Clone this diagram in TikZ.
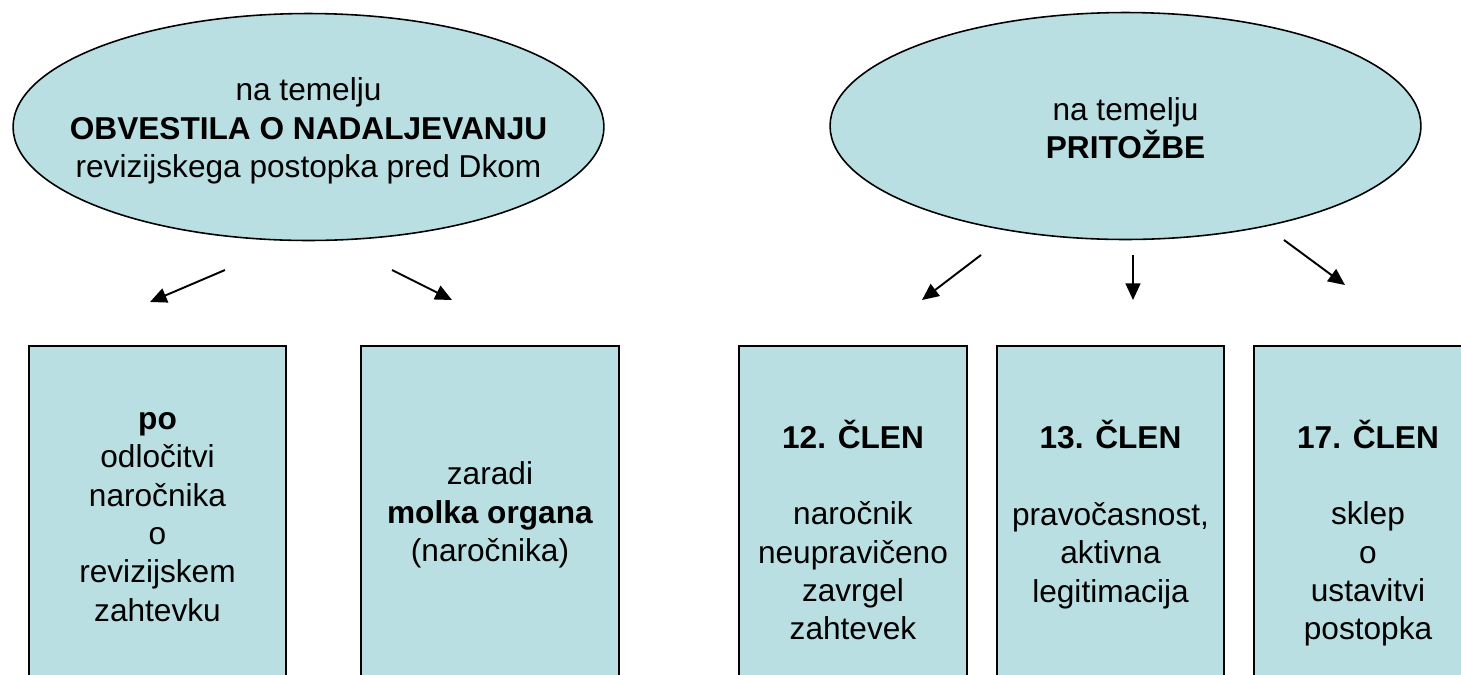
\documentclass[tikz,border=0pt]{standalone}
\usepackage{fontspec}
\setmainfont{Liberation Sans}
\usepackage{tikz}
\usetikzlibrary{arrows.meta,shapes.geometric}
\definecolor{paleteal}{RGB}{185,223,226}
\tikzset{
  bubble/.style={ellipse, draw, line width=0.9pt, fill=paleteal, inner sep=0pt, outer sep=0pt, minimum width=11.82cm, minimum height=4.54cm},
  card/.style={rectangle, draw, line width=1.1pt, fill=paleteal, anchor=north, inner sep=0pt, outer sep=0pt, minimum height=7.1cm},
  cardtext/.style={align=center, inner sep=0pt},
  line/.style={-{Triangle[length=9.5pt,width=8.5pt]}, line width=1.1pt}
}
\begin{document}
\begin{tikzpicture}[x=0.02cm, y=-0.02cm, font=\fontsize{18}{21.8}\selectfont]
  \useasboundingbox (0,0) rectangle (1461,674);
  \clip (0,0) rectangle (1461,674);

  % the two sources
  \node[bubble] (obv) at (308.5,127) {};
  \node[bubble] (prit) at (1125.5,126) {};
  \node[cardtext] (obv-t) at (308.5,131) {na temelju\\\textbf{OBVESTILA O NADALJEVANJU}\\revizijskega postopka pred Dkom};
  \node[cardtext] (prit-t) at (1125.5,128) {na temelju\\\textbf{PRITOŽBE}};

  % boxes, cut off by the lower edge
  \node[card, minimum width=5.14cm] (odl) at (157.5,346) {};
  \node[card, minimum width=5.16cm] (molk) at (490,346) {};
  \node[card, minimum width=4.56cm] (c12) at (853,346) {};
  \node[card, minimum width=4.54cm] (c13) at (1110.5,346) {};
  \node[card, minimum width=4.56cm] (c17) at (1368,346) {};

  \node[cardtext] (odl-t) at (157.5,517) {\textbf{po}\\odločitvi\\naročnika\\o\\revizijskem\\zahtevku};
  \node[cardtext] (molk-t) at (490,515) {zaradi\\\textbf{molka organa}\\(naročnika)};
  \node[cardtext] (c12-t) at (853,530) {\textbf{12. ČLEN}\\[21.8pt]naročnik\\neupravičeno\\zavrgel\\zahtevek};
  \node[cardtext] (c13-t) at (1110.5,514.5) {\textbf{13. ČLEN}\\[21.8pt]pravočasnost,\\aktivna\\legitimacija};
  \node[cardtext] (c17-t) at (1368,533) {\textbf{17. ČLEN}\\[21.8pt]sklep\\o\\ustavitvi\\postopka};

  % free-standing arrows
  \coordinate (obv-a) at (225,270);   \coordinate (odl-a) at (150,302);
  \coordinate (obv-b) at (392,270);   \coordinate (molk-a) at (452,300);
  \coordinate (prit-a) at (981,255);  \coordinate (c12-a) at (922,300);
  \coordinate (prit-b) at (1133,255); \coordinate (c13-a) at (1133,300);
  \coordinate (prit-c) at (1284,240); \coordinate (c17-a) at (1345,285);

  \draw[line] (obv-a) -- (odl-a);
  \draw[line] (obv-b) -- (molk-a);
  \draw[line] (prit-a) -- (c12-a);
  \draw[line] (prit-b) -- (c13-a);
  \draw[line] (prit-c) -- (c17-a);
\end{tikzpicture}
\end{document}
